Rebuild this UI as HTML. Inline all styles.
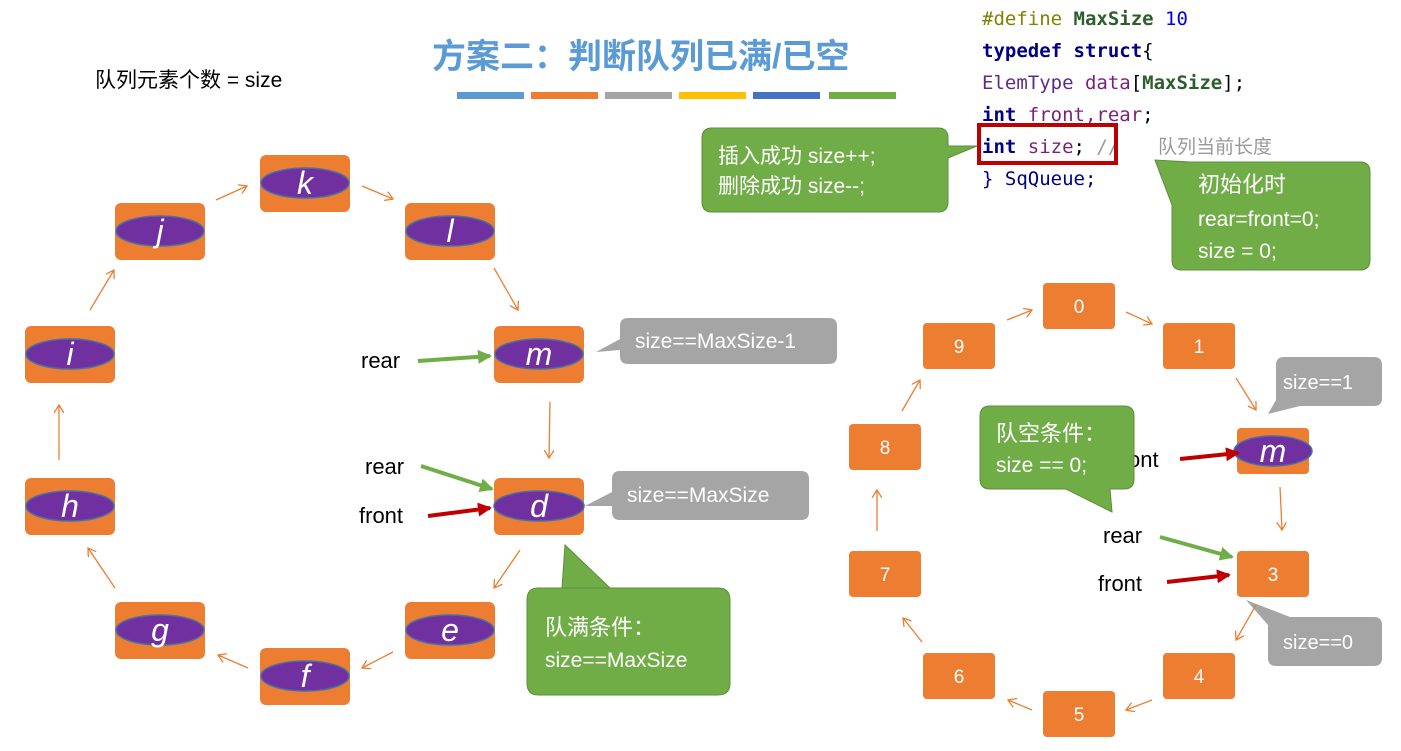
<!DOCTYPE html>
<html><head><meta charset="utf-8"><style>
body{margin:0;background:#fff;width:1401px;height:746px;overflow:hidden}
svg text{font-family:"Liberation Sans","Noto Sans CJK SC",sans-serif}
.code{font-family:"DejaVu Sans Mono","Liberation Mono",monospace;font-size:19px}
</style></head><body>
<svg width="1401" height="746" viewBox="0 0 1401 746">
<defs>
<marker id="ao" markerWidth="10" markerHeight="10" refX="8" refY="5" orient="auto" markerUnits="userSpaceOnUse"><path d="M0,0 L8,5 L0,10" fill="none" stroke="#ED7D31" stroke-width="1.3"/></marker>
<marker id="ag" markerWidth="14" markerHeight="14" refX="12" refY="7" orient="auto" markerUnits="userSpaceOnUse"><path d="M0,0 L14,7 L0,14 z" fill="#70AD47"/></marker>
<marker id="ar" markerWidth="14" markerHeight="14" refX="12" refY="7" orient="auto" markerUnits="userSpaceOnUse"><path d="M0,0 L14,7 L0,14 z" fill="#C00000"/></marker>
</defs>
<text x="432" y="68" font-size="34" font-weight="bold" fill="#5B9BD5">方案二：判断队列已满/已空</text>
<rect x="457" y="92" width="67" height="7" fill="#5B9BD5"/><rect x="531" y="92" width="67" height="7" fill="#ED7D31"/><rect x="605" y="92" width="67" height="7" fill="#A5A5A5"/><rect x="679" y="92" width="67" height="7" fill="#FFC000"/><rect x="753" y="92" width="67" height="7" fill="#4472C4"/><rect x="829" y="92" width="67" height="7" fill="#70AD47"/>
<text x="95" y="87" font-size="21">队列元素个数 = size</text>
<g class="code">
<text x="982" y="25" class="code"><tspan fill="#808000">#define </tspan><tspan fill="#2E5E2E" font-weight="bold">MaxSize </tspan><tspan fill="#0000E0">10</tspan></text>
<text x="982" y="57" class="code" font-weight="bold" fill="#000080">typedef struct<tspan fill="#000" font-weight="normal">{</tspan></text>
<text x="982" y="89" class="code"><tspan fill="#5B2C8B">ElemType </tspan><tspan fill="#7B1F7B">data</tspan>[<tspan fill="#2E5E2E" font-weight="bold">MaxSize</tspan>];</text>
<text x="982" y="121" class="code"><tspan fill="#000080" font-weight="bold">int </tspan><tspan fill="#7B1F7B">front,rear</tspan>;</text>
<text x="982" y="153" class="code"><tspan fill="#000080" font-weight="bold">int </tspan><tspan fill="#7B1F7B">size</tspan>;  <tspan fill="#999">//</tspan></text>
<text x="1158" y="153" font-size="19" fill="#999">队列当前长度</text>
<text x="982" y="185" class="code" fill="#000080">} SqQueue;</text>
</g>
<rect x="979" y="125" width="137" height="38" fill="none" stroke="#C00000" stroke-width="4"/>
<!-- green callouts -->
<path d="M712,128 H938 Q948,128 948,138 V146 L977,146 L948,158 V202 Q948,212 938,212 H712 Q702,212 702,202 V138 Q702,128 712,128 Z" fill="#70AD47" stroke="#5B8F38"/>
<text x="718" y="163" font-size="21" fill="#fff">插入成功 size++;</text>
<text x="718" y="193" font-size="21" fill="#fff">删除成功 size--;</text>
<path d="M1182,162 H1360 Q1370,162 1370,172 V260 Q1370,270 1360,270 H1182 Q1172,270 1172,260 V205 L1155,160 L1190,162 Z" fill="#70AD47" stroke="#5B8F38"/>
<text x="1198" y="192" font-size="22" fill="#fff">初始化时</text>
<text x="1198" y="226" font-size="21" fill="#fff">rear=front=0;</text>
<text x="1198" y="258" font-size="21" fill="#fff">size = 0;</text>
<path d="M538,588 H718 Q730,588 730,600 V683 Q730,695 718,695 H538 Q527,695 527,683 V600 Q527,588 538,588 H562 L565,545 L610,588 Z" fill="#70AD47" stroke="#5B8F38"/>
<text x="545" y="635" font-size="22" fill="#fff">队满条件：</text>
<text x="545" y="667" font-size="21" fill="#fff">size==MaxSize</text>
<!-- grey callouts -->
<path d="M628,318 H829 Q837,318 837,326 V356 Q837,364 829,364 H628 Q620,364 620,356 V350 L596,352 L620,339 V326 Q620,318 628,318 Z" fill="#A5A5A5"/>
<text x="635" y="348" font-size="21" fill="#fff">size==MaxSize-1</text>
<path d="M620,471 H801 Q809,471 809,479 V512 Q809,520 801,520 H620 Q612,520 612,512 V506 L585,506 L612,492 V479 Q612,471 620,471 Z" fill="#A5A5A5"/>
<text x="627" y="502" font-size="21" fill="#fff">size==MaxSize</text>
<path d="M1276,357 H1374 Q1382,357 1382,365 V398 Q1382,406 1374,406 H1300 L1268,414 L1276,400 V365 Q1276,357 1284,357 Z" fill="#A5A5A5"/>
<text x="1283" y="389" font-size="20" fill="#fff">size==1</text>
<path d="M1276,617 H1374 Q1382,617 1382,625 V658 Q1382,666 1374,666 H1276 Q1268,666 1268,658 V625 L1246,600 L1290,617 Z" fill="#A5A5A5"/>
<text x="1283" y="649" font-size="20" fill="#fff">size==0</text>
<!-- left ring nodes -->
<g font-size="32" font-style="italic" fill="#fff" text-anchor="middle">
<g transform="translate(305,183)"><rect x="-45" y="-28" width="90" height="57" rx="6" fill="#ED7D31"/><ellipse rx="44" ry="15" fill="#7030A0" stroke="#4A6FA5" stroke-width="1.5"/><text y="11">k</text></g>
<g transform="translate(450,231)"><rect x="-45" y="-28" width="90" height="57" rx="6" fill="#ED7D31"/><ellipse rx="44" ry="15" fill="#7030A0" stroke="#4A6FA5" stroke-width="1.5"/><text y="11">l</text></g>
<g transform="translate(539,354)"><rect x="-45" y="-28" width="90" height="57" rx="6" fill="#ED7D31"/><ellipse rx="44" ry="15" fill="#7030A0" stroke="#4A6FA5" stroke-width="1.5"/><text y="11">m</text></g>
<g transform="translate(539,506)"><rect x="-45" y="-28" width="90" height="57" rx="6" fill="#ED7D31"/><ellipse rx="45" ry="15" fill="#7030A0" stroke="#4A6FA5" stroke-width="1.5"/><text y="11">d</text></g>
<g transform="translate(450,630)"><rect x="-45" y="-28" width="90" height="57" rx="6" fill="#ED7D31"/><ellipse rx="44" ry="15" fill="#7030A0" stroke="#4A6FA5" stroke-width="1.5"/><text y="11">e</text></g>
<g transform="translate(305,676)"><rect x="-45" y="-28" width="90" height="57" rx="6" fill="#ED7D31"/><ellipse rx="44" ry="15" fill="#7030A0" stroke="#4A6FA5" stroke-width="1.5"/><text y="11">f</text></g>
<g transform="translate(160,630)"><rect x="-45" y="-28" width="90" height="57" rx="6" fill="#ED7D31"/><ellipse rx="44" ry="15" fill="#7030A0" stroke="#4A6FA5" stroke-width="1.5"/><text y="11">g</text></g>
<g transform="translate(70,506)"><rect x="-45" y="-28" width="90" height="57" rx="6" fill="#ED7D31"/><ellipse rx="44" ry="15" fill="#7030A0" stroke="#4A6FA5" stroke-width="1.5"/><text y="11">h</text></g>
<g transform="translate(70,354)"><rect x="-45" y="-28" width="90" height="57" rx="6" fill="#ED7D31"/><ellipse rx="44" ry="15" fill="#7030A0" stroke="#4A6FA5" stroke-width="1.5"/><text y="11">i</text></g>
<g transform="translate(160,231)"><rect x="-45" y="-28" width="90" height="57" rx="6" fill="#ED7D31"/><ellipse rx="44" ry="15" fill="#7030A0" stroke="#4A6FA5" stroke-width="1.5"/><text y="11">j</text></g>
</g>
<g stroke="#ED7D31" stroke-width="1.3" fill="none" marker-end="url(#ao)">
<path d="M216,200 L247,186"/><path d="M362,186 L393,199"/><path d="M494,268 L518,310"/><path d="M550,402 L549,458"/><path d="M520,550 L494,588"/><path d="M393,652 L362,668"/><path d="M248,668 L218,655"/><path d="M115,588 L88,548"/><path d="M59,460 L59,405"/><path d="M90,310 L114,270"/>
</g>
<!-- left pointers -->
<text x="361" y="368" font-size="22">rear</text>
<path d="M418,361 L490,356" stroke="#70AD47" stroke-width="4" marker-end="url(#ag)"/>
<text x="365" y="474" font-size="22">rear</text>
<path d="M421,466 L492,489" stroke="#70AD47" stroke-width="4" marker-end="url(#ag)"/>
<text x="359" y="523" font-size="22">front</text>
<path d="M428,516 L490,508" stroke="#C00000" stroke-width="4" marker-end="url(#ar)"/>
<!-- right ring -->
<g font-size="19" fill="#fff" text-anchor="middle">
<g transform="translate(1079,306)"><rect x="-36" y="-23" width="72" height="46" rx="4" fill="#ED7D31"/><text y="7">0</text></g>
<g transform="translate(1199,346)"><rect x="-36" y="-23" width="72" height="46" rx="4" fill="#ED7D31"/><text y="7">1</text></g>
<g transform="translate(1273,574)"><rect x="-36" y="-23" width="72" height="46" rx="4" fill="#ED7D31"/><text y="7">3</text></g>
<g transform="translate(1199,676)"><rect x="-36" y="-23" width="72" height="46" rx="4" fill="#ED7D31"/><text y="7">4</text></g>
<g transform="translate(1079,714)"><rect x="-36" y="-23" width="72" height="46" rx="4" fill="#ED7D31"/><text y="7">5</text></g>
<g transform="translate(959,676)"><rect x="-36" y="-23" width="72" height="46" rx="4" fill="#ED7D31"/><text y="7">6</text></g>
<g transform="translate(885,574)"><rect x="-36" y="-23" width="72" height="46" rx="4" fill="#ED7D31"/><text y="7">7</text></g>
<g transform="translate(885,447)"><rect x="-36" y="-23" width="72" height="46" rx="4" fill="#ED7D31"/><text y="7">8</text></g>
<g transform="translate(959,346)"><rect x="-36" y="-23" width="72" height="46" rx="4" fill="#ED7D31"/><text y="7">9</text></g>
<g transform="translate(1273,451)"><rect x="-36" y="-23" width="72" height="46" rx="4" fill="#ED7D31"/><ellipse rx="39" ry="15" fill="#7030A0" stroke="#4A6FA5" stroke-width="1.5"/><text y="11" font-size="32" font-style="italic">m</text></g>
</g>
<g stroke="#ED7D31" stroke-width="1.3" fill="none" marker-end="url(#ao)">
<path d="M1007,320 L1032,310"/><path d="M1126,312 L1152,324"/><path d="M1236,378 L1256,410"/><path d="M1280,487 L1282,530"/><path d="M1256,605 L1236,640"/><path d="M1152,700 L1126,710"/><path d="M1032,710 L1008,700"/><path d="M922,642 L903,618"/><path d="M877,531 L877,490"/><path d="M902,411 L920,380"/>
</g>
<text x="1103" y="543" font-size="22">rear</text>
<path d="M1160,537 L1232,557" stroke="#70AD47" stroke-width="4" marker-end="url(#ag)"/>
<text x="1098" y="591" font-size="22">front</text>
<path d="M1167,582 L1229,575" stroke="#C00000" stroke-width="4" marker-end="url(#ar)"/>
<text x="1128" y="467" font-size="22">ont</text>
<path d="M1180,459 L1238,453" stroke="#C00000" stroke-width="4" marker-end="url(#ar)"/>
<path d="M990,406 H1124 Q1134,406 1134,416 V479 Q1134,489 1124,489 H1110 L1112,512 L1066,489 H990 Q980,489 980,479 V416 Q980,406 990,406 Z" fill="#70AD47" stroke="#5B8F38"/>
<text x="996" y="441" font-size="22" fill="#fff">队空条件：</text>
<text x="996" y="472" font-size="21" fill="#fff">size == 0;</text>
</svg>
</body></html>
